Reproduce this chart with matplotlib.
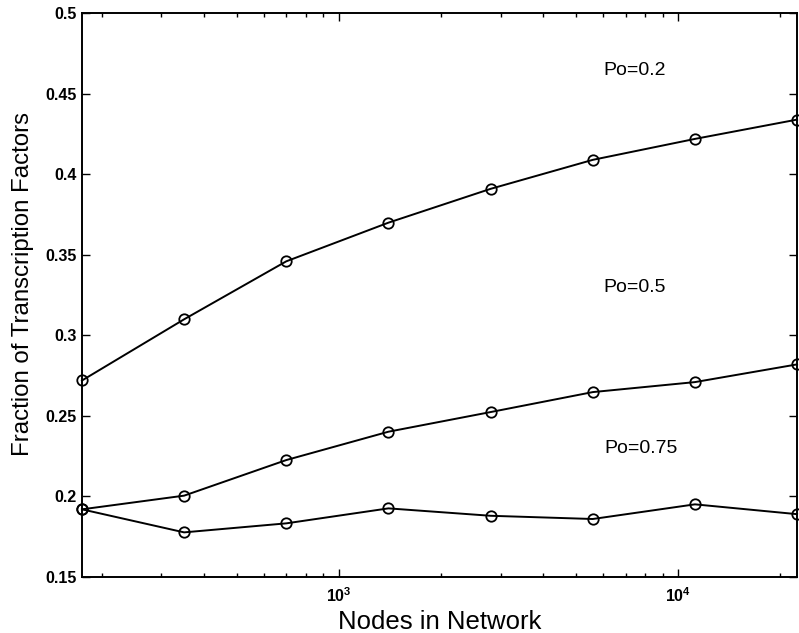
import matplotlib.pyplot as plt

plt.rcParams['font.family'] = ['Liberation Sans', 'DejaVu Sans']

nodes = [175, 350, 700, 1400, 2800, 5600, 11200, 22400]
po_02 = [0.272, 0.310, 0.346, 0.370, 0.391, 0.409, 0.422, 0.434]
po_05 = [0.192, 0.2005, 0.2226, 0.2402, 0.2524, 0.2648, 0.271, 0.282]
po_075 = [0.192, 0.1777, 0.1833, 0.1926, 0.188, 0.186, 0.1951, 0.189]

fig = plt.figure(figsize=(7.99, 6.33), dpi=100)
ax = fig.add_axes([0.1026, 0.0885, 0.895, 0.8905])

for serie in (po_02, po_05, po_075):
    ax.plot(nodes, serie, color='black', linewidth=1.4, marker='o',
            markersize=7.5, markerfacecolor='none', markeredgewidth=1.3,
            clip_on=False)

ax.set_xscale('log')
ax.set_xlim(175, 22400)
ax.set_ylim(0.15, 0.5)
ax.set_yticks([0.15, 0.2, 0.25, 0.3, 0.35, 0.4, 0.45, 0.5])
ax.set_yticklabels(['0.15', '0.2', '0.25', '0.3', '0.35', '0.4', '0.45', '0.5'])

ax.tick_params(which='both', direction='in', top=True, right=True,
               labelsize=11.5, width=1)
ax.tick_params(axis='x', pad=7)
ax.tick_params(which='major', length=6)
ax.tick_params(which='minor', length=3)
for lab in ax.get_yticklabels() + ax.get_xticklabels():
    lab.set_fontweight('bold')
for s in ax.spines.values():
    s.set_linewidth(1.4)

ax.text(6000, 0.4646, 'Po=0.2', fontsize=14, va='center', ha='left')
ax.text(6000, 0.330, 'Po=0.5', fontsize=14, va='center', ha='left')
ax.text(6050, 0.230, 'Po=0.75', fontsize=14, va='center', ha='left')

ax.set_xlabel('Nodes in Network', fontsize=18.5)
ax.xaxis.set_label_coords(0.5, -0.058)
ax.set_ylabel('Fraction of Transcription Factors', fontsize=17.3)
ax.yaxis.set_label_coords(-0.067, 0.52)

fig.savefig('out.png', dpi=100)
